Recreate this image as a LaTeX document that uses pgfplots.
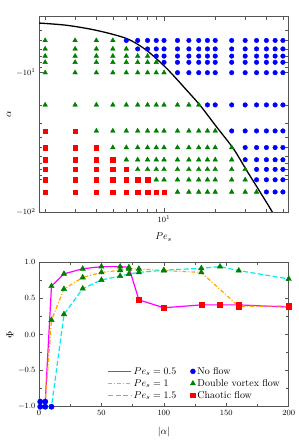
\documentclass[border=0pt]{standalone}
\usepackage{pgfplots}
\pgfplotsset{compat=1.18}
\definecolor{cgreen}{RGB}{0,128,0}
\definecolor{cblue}{RGB}{0,0,255}
\definecolor{cred}{RGB}{255,0,0}
\definecolor{cmag}{RGB}{255,0,255}
\definecolor{corange}{RGB}{255,165,0}
\definecolor{ccyan}{RGB}{0,235,240}
\definecolor{framegray}{RGB}{85,85,85}
\pgfplotsset{
  myframe/.style={
    axis line style={framegray, line width=0.9pt},
    every tick/.style={framegray, line width=0.6pt},
    tick align=inside,
    major tick length=4bp,
    minor tick length=3bp,
    tick label style={font=\footnotesize},
    label style={font=\normalsize},
  },
}
\begin{document}
\begin{tikzpicture}[x=1bp,y=1bp]
\path[use as bounding box] (0,0) rectangle (298,440);
% ---------------- panel (a)
\begin{axis}[myframe,
  at={(39bp,228bp)}, anchor=south west, scale only axis,
  width=249.3bp, height=195.3bp,
  xmode=log, ymode=log, y dir=reverse,
  xmin=1.84, xmax=53.8, ymin=3, ymax=200,
  xtick={10}, xticklabels={$10^1$},
  minor xtick={2,3,4,5,6,7,8,9,20,30,40,50},
  ytick={10,200}, yticklabels={$-10^1$,$-10^2$},
  minor ytick={3,4,5,6,7,8,9,20,30,40,50,60,70,80,90,100},
  xlabel={$Pe_s$}, ylabel={$\alpha$},
  xlabel style={at={(axis description cs:0.5,-0.128)}, anchor=center},
  ylabel style={at={(axis description cs:-0.12,0.5)}, anchor=center},
]
% Double vortex flow (triangles)
\addplot[only marks, mark=triangle*, mark size=2.7pt, mark options={draw=cgreen, fill=cgreen}] coordinates {
(2,5)(3,5)(4,5)(5,5)
(2,6)(3,6)(4,6)(5,6)(6,6)
(2,7)(3,7)(4,7)(5,7)(6,7)(7,7)(8,7)
(2,8)(3,8)(4,8)(5,8)(6,8)(7,8)(8,8)(9,8)
(2,10)(3,10)(4,10)(5,10)(6,10)(7,10)(8,10)(9,10)(10,10)
(2,20)(3,20)(4,20)(5,20)(6,20)(7,20)(8,20)(9,20)(10,20)(12,20)(14,20)(16,20)
(4,35)(5,35)(6,35)(7,35)(8,35)(9,35)(10,35)(12,35)(14,35)(16,35)(18,35)(20,35)
(5,50)(6,50)(7,50)(8,50)(9,50)(10,50)(12,50)(14,50)(16,50)(18,50)(20,50)(25,50)
(6,65)(7,65)(8,65)(9,65)(10,65)(12,65)(14,65)(16,65)(18,65)(20,65)(25,65)
(7,80)(8,80)(9,80)(10,80)(12,80)(14,80)(16,80)(18,80)(20,80)(25,80)(30,80)
(9,100)(10,100)(12,100)(14,100)(16,100)(18,100)(20,100)(25,100)(30,100)
(12,130)(14,130)(16,130)(18,130)(20,130)(25,130)(30,130)(35,130)
};
% No flow (circles)
\addplot[only marks, mark=*, mark size=2.3pt, mark options={draw=cblue, fill=cblue}] coordinates {
(6,5)(7,5)(8,5)(9,5)(10,5)(12,5)(14,5)(16,5)(18,5)(20,5)(25,5)(30,5)(35,5)(40,5)(45,5)(50,5)
(7,6)(8,6)(9,6)(10,6)(12,6)(14,6)(16,6)(18,6)(20,6)(25,6)(30,6)(35,6)(40,6)(45,6)(50,6)
(9,7)(10,7)(12,7)(14,7)(16,7)(18,7)(20,7)(25,7)(30,7)(35,7)(40,7)(45,7)(50,7)
(10,8)(12,8)(14,8)(16,8)(18,8)(20,8)(25,8)(30,8)(35,8)(40,8)(45,8)(50,8)
(12,10)(14,10)(16,10)(18,10)(20,10)(25,10)(30,10)(35,10)(40,10)(45,10)(50,10)
(18,20)(20,20)(25,20)(30,20)(35,20)(40,20)(45,20)(50,20)
(25,35)(30,35)(35,35)(40,35)(45,35)(50,35)
(30,50)(35,50)(40,50)(45,50)(50,50)
(30,65)(35,65)(40,65)(45,65)(50,65)
(35,80)(40,80)(45,80)(50,80)
(35,100)(40,100)(45,100)(50,100)
(40,130)(45,130)(50,130)
};
% Chaotic flow (squares)
\addplot[only marks, mark=square*, mark size=2.2pt, mark options={draw=cred, fill=cred}] coordinates {
(2,35)(3,35)
(2,50)(3,50)(4,50)
(2,65)(3,65)(4,65)(5,65)
(2,80)(3,80)(4,80)(5,80)(6,80)
(2,100)(3,100)(4,100)(5,100)(6,100)(7,100)(8,100)
(2,130)(3,130)(4,130)(5,130)(6,130)(7,130)(8,130)(9,130)(10,130)
};
% boundary curve
\addplot[black, line width=1.3pt, smooth] coordinates {
(1.84,3.44)(2.68,3.61)(4.02,4.03)(6.04,4.81)(7.91,6.2)(10.4,9.18)(13.6,14.6)
(16.3,20.2)(20.4,32.2)(25.6,51.3)(30.6,81.8)(36.7,130)(43,196)(44.5,222)
};
\node[font=\normalsize] at (rel axis cs:0.005,1.045) {$(a)$};
\end{axis}
% ---------------- panel (b)
\begin{axis}[myframe,
  at={(39bp,33.3bp)}, anchor=south west, scale only axis,
  width=249.7bp, height=144.4bp,
  xmin=0, xmax=200, ymin=-1, ymax=1,
  xtick={0,50,100,150,200}, ytick={-1,-0.5,0,0.5,1},
  minor tick num=1,
  yticklabel style={/pgf/number format/.cd, fixed, fixed zerofill, precision=1},
  xlabel={$|\alpha|$}, ylabel={$\Phi$},
  xlabel style={at={(axis description cs:0.5,-0.175)}, anchor=center},
  ylabel style={at={(axis description cs:-0.116,0.5)}, anchor=center},
  legend columns=2,
  legend cell align=left,
  legend style={at={(axis description cs:0.985,0.02)}, anchor=south east, draw=none, fill=none,
    font=\normalsize, row sep=-0.5bp,
    /tikz/every even column/.append style={column sep=12bp}},
]
\addlegendimage{empty legend}
\addlegendentry{\tikz[baseline=-0.6ex]\draw[draw=cmag, draw opacity=1, line width=1.2pt, solid] (0bp,0bp) -- (23bp,0bp);\,$Pe_s=0.5$}
\addlegendimage{only marks, mark=*, mark size=2.5pt, cblue, mark options={draw=cblue, fill=cblue}}
\addlegendentry{No flow}
\addlegendimage{empty legend}
\addlegendentry{\tikz[baseline=-0.6ex]\draw[draw=corange, draw opacity=1, line width=1.2pt, dash pattern=on 4bp off 2bp on 1bp off 2bp] (0bp,0bp) -- (23bp,0bp);\,$Pe_s=1$}
\addlegendimage{only marks, mark=triangle*, mark size=2.9pt, cgreen, mark options={draw=cgreen, fill=cgreen}}
\addlegendentry{Double vortex flow}
\addlegendimage{empty legend}
\addlegendentry{\tikz[baseline=-0.6ex]\draw[draw=ccyan, draw opacity=1, line width=1.2pt, dash pattern=on 5bp off 2.5bp] (0bp,0bp) -- (23bp,0bp);\,$Pe_s=1.5$}
\addlegendimage{only marks, mark=square*, mark size=2.3pt, cred, mark options={draw=cred, fill=cred}}
\addlegendentry{Chaotic flow}
% lines
\addplot[forget plot, cmag, line width=1.2pt] coordinates {
(1,-0.93)(5,-0.93)(10,0.67)(20,0.84)(35,0.91)(50,0.94)(65,0.94)(72,0.93)(80,0.48)(100,0.37)(130,0.41)(145,0.41)(160,0.41)(200,0.38)
};
\addplot[forget plot, corange, line width=1.2pt, dash pattern=on 4bp off 2bp on 1bp off 2bp] coordinates {
(1,-0.93)(5,-0.93)(10,0.2)(20,0.63)(35,0.79)(50,0.86)(65,0.89)(72,0.91)(80,0.91)(100,0.885)(130,0.86)(160,0.39)(200,0.395)
};
\addplot[forget plot, ccyan, line width=1.2pt, dash pattern=on 5bp off 2.5bp] coordinates {
(1,-1)(5,-1)(10,-1)(20,0.28)(35,0.635)(50,0.755)(65,0.81)(72,0.838)(80,0.86)(100,0.89)(130,0.917)(145,0.94)(160,0.885)(200,0.77)
};
% markers
\addplot[forget plot, only marks, mark=*, mark size=2.7pt, mark options={draw=cblue, fill=cblue}] coordinates {
(1,-0.93)(5,-0.93)(1,-1)(5,-1)(10,-1)
};
\addplot[forget plot, only marks, mark=triangle*, mark size=3.2pt, mark options={draw=cgreen, fill=cgreen}] coordinates {
(10,0.67)(20,0.84)(35,0.91)(50,0.94)(65,0.94)(72,0.93)
(10,0.2)(20,0.63)(35,0.79)(50,0.86)(65,0.89)(72,0.91)(80,0.91)(100,0.885)(130,0.86)
(20,0.28)(35,0.635)(50,0.755)(65,0.81)(72,0.838)(80,0.86)(100,0.89)(130,0.917)(145,0.94)(160,0.885)(200,0.77)
};
\addplot[forget plot, only marks, mark=square*, mark size=2.6pt, mark options={draw=cred, fill=cred}] coordinates {
(80,0.48)(100,0.37)(130,0.41)(145,0.41)(160,0.41)(200,0.38)(160,0.39)(200,0.395)
};
\node[font=\normalsize] at (rel axis cs:0.005,1.071) {$(b)$};
\end{axis}
\end{tikzpicture}
\end{document}
